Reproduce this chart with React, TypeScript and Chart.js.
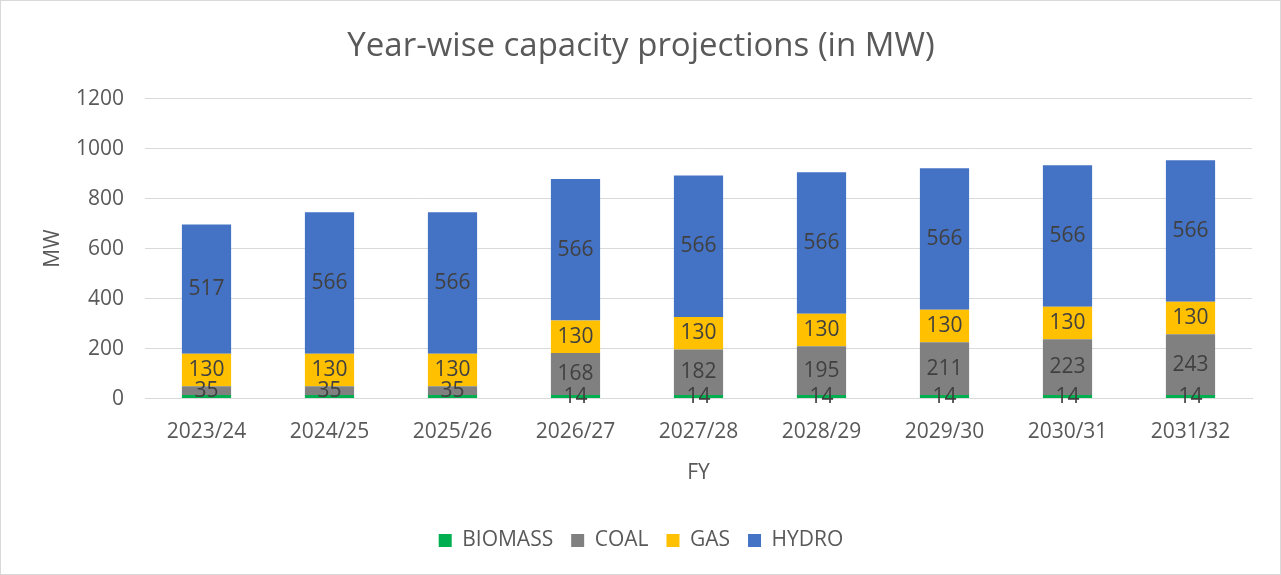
import React, { useEffect, useRef } from "react";
import { Chart, registerables } from "chart.js";

Chart.register(...registerables);

const categories = ["2023/24", "2024/25", "2025/26", "2026/27", "2027/28", "2028/29", "2029/30", "2030/31", "2031/32"];
const biomass = [14, 14, 14, 14, 14, 14, 14, 14, 14];
const coal = [35, 35, 35, 168, 182, 195, 211, 223, 243];
const gas = [130, 130, 130, 130, 130, 130, 130, 130, 130];
const hydro = [517, 566, 566, 566, 566, 566, 566, 566, 566];
const yTicks = [0, 200, 400, 600, 800, 1000, 1200];
// biomass labels shown only where the source shows them
const biomassLabelShown = [false, false, false, true, true, true, true, true, true];

const FONT = "'Open Sans', sans-serif";

const bgPlugin = {
  id: "bgBorder",
  beforeDraw(chart: any) {
    const { ctx, width, height } = chart;
    ctx.save();
    ctx.fillStyle = "#ffffff";
    ctx.fillRect(0, 0, width, height);
    ctx.strokeStyle = "#d9d9d9";
    ctx.lineWidth = 1;
    ctx.strokeRect(0.5, 0.5, width - 1, height - 1);
    ctx.restore();
  },
};

const labelPlugin = {
  id: "segLabels",
  afterDatasetsDraw(chart: any) {
    const { ctx } = chart;
    ctx.save();
    ctx.font = `21px ${FONT}`;
    ctx.fillStyle = "#404040";
    ctx.textAlign = "center";
    ctx.textBaseline = "middle";
    chart.data.datasets.forEach((ds: any, di: number) => {
      const meta = chart.getDatasetMeta(di);
      meta.data.forEach((bar: any, i: number) => {
        if (di === 0 && !biomassLabelShown[i]) return;
        const y = (bar.y + bar.base) / 2;
        ctx.fillText(String(ds.data[i]), bar.x, y);
      });
    });
    ctx.restore();
  },
};

export default function App() {
  const ref = useRef<HTMLCanvasElement>(null);
  useEffect(() => {
    document.body.style.margin = "0";
    const chart = new Chart(ref.current!, {
      type: "bar",
      data: {
        labels: categories,
        datasets: [
          { label: "BIOMASS", data: biomass, backgroundColor: "#00B050" },
          { label: "COAL", data: coal, backgroundColor: "#808080" },
          { label: "GAS", data: gas, backgroundColor: "#FFC000" },
          { label: "HYDRO", data: hydro, backgroundColor: "#4472C4" },
        ],
      },
      options: {
        responsive: false,
        animation: false,
        layout: { padding: { left: 30, right: 29, top: 0, bottom: 14 } },
        datasets: { bar: { barPercentage: 0.4, categoryPercentage: 1 } },
        plugins: {
          title: {
            display: true,
            text: "Year-wise capacity projections (in MW)",
            color: "#595959",
            font: { family: FONT, size: 33, weight: "normal" },
            padding: { top: 27, bottom: 32 },
          },
          legend: {
            position: "bottom",
            labels: {
              color: "#595959",
              font: { family: FONT, size: 21 },
              boxWidth: 13,
              boxHeight: 13,
              padding: 18,
            },
          },
          tooltip: { enabled: false },
        },
        scales: {
          x: {
            stacked: true,
            grid: { display: false },
            border: { display: true, color: "#d9d9d9" },
            ticks: { color: "#595959", font: { family: FONT, size: 21 }, padding: 13 },
            title: { display: true, text: "FY", color: "#595959", font: { family: FONT, size: 21 }, padding: { top: 3, bottom: 26 } },
          },
          y: {
            stacked: true,
            min: 0,
            max: 1200,
            afterBuildTicks: (s: any) => { s.ticks = yTicks.map((v) => ({ value: v })); },
            afterFit: (s: any) => { s.width = 115; },
            grid: { color: "#d9d9d9", drawTicks: false },
            border: { display: false },
            ticks: { color: "#595959", font: { family: FONT, size: 21 }, padding: 21, callback: (v: any) => String(v) },
            title: { display: true, text: "MW", color: "#595959", font: { family: FONT, size: 21 }, padding: { top: 10, bottom: 0 } },
          },
        },
      },
      plugins: [bgPlugin, labelPlugin],
    });
    return () => chart.destroy();
  }, []);
  return <canvas ref={ref} width={1281} height={575} style={{ display: "block" }} />;
}
